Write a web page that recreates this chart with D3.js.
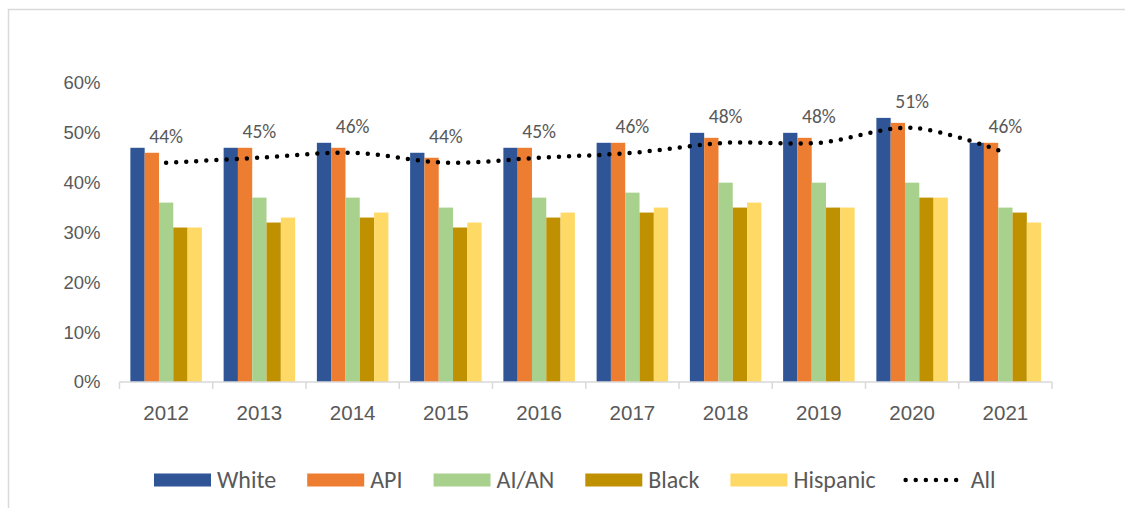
<!DOCTYPE html>
<html>
<head>
<meta charset="utf-8">
<script src="https://cdn.jsdelivr.net/npm/d3@7"></script>
<style>
    body { margin: 0; background: #fff; }
    svg { display: block; font-family: Calibri, Carlito, Lato, sans-serif; }
</style>
</head>
<body>
<svg width="1125" height="508"></svg>
<script>
var years = ["2012", "2013", "2014", "2015", "2016", "2017", "2018", "2019", "2020", "2021"];
var seriesNames = ["White", "API", "AI/AN", "Black", "Hispanic"];
var white    = [47, 47, 48, 46, 47, 48, 50, 50, 53, 48];
var api      = [46, 47, 47, 45, 47, 48, 49, 49, 52, 48];
var aian     = [36, 37, 37, 35, 37, 38, 40, 40, 40, 35];
var black    = [31, 32, 33, 31, 33, 34, 35, 35, 37, 34];
var hispanic = [31, 33, 34, 32, 34, 35, 36, 35, 37, 32];
var all      = [44, 45, 46, 44, 45, 46, 48, 48, 51, 46];
var yTicks = [0, 10, 20, 30, 40, 50, 60];

var colors = ["#2F5597", "#ED7D31", "#A9D18E", "#BF9000", "#FFD966"];
var seriesValues = [white, api, aian, black, hispanic];

var svg = d3.select("svg"),
    margin = {top: 83, left: 119.5, right: 73, bottom: 126},
    width = +svg.attr("width") - margin.left - margin.right,
    height = +svg.attr("height") - margin.top - margin.bottom;

// outer frame (cropped on the right and bottom like the original)
svg.append("rect")
    .attr("x", 8.5).attr("y", 9.5)
    .attr("width", 1200).attr("height", 600)
    .attr("fill", "none")
    .attr("stroke", "#d9d9d9")
    .attr("stroke-width", 1.5);

var g = svg.append("g")
    .attr("transform", "translate(" + margin.left + "," + margin.top + ")");

var x0 = d3.scaleBand().domain(years).range([0, width]);
var x1 = d3.scaleBand().domain(seriesNames)
    .range([0, x0.bandwidth()])
    .paddingInner(0)
    .paddingOuter(0.76);
var y = d3.scaleLinear().domain([0, 60]).range([height, 0]);

// y axis labels only
g.append("g")
    .attr("transform", "translate(-11,0)")
    .call(d3.axisLeft(y).tickValues(yTicks).tickSize(0).tickPadding(8)
        .tickFormat(function(d) { return d + "%"; }))
    .call(function(a) { a.select(".domain").remove(); })
    .selectAll("text")
    .attr("fill", "#595959")
    .style("font-size", "18.5px");

// bars
var rows = [];
years.forEach(function(yr, i) {
    seriesNames.forEach(function(s, j) {
        rows.push({year: yr, series: s, value: seriesValues[j][i], color: colors[j]});
    });
});

g.selectAll(".bar")
    .data(rows)
    .enter().append("rect")
    .attr("class", "bar")
    .attr("x", function(d) { return x0(d.year) + x1(d.series); })
    .attr("y", function(d) { return y(d.value); })
    .attr("width", x1.bandwidth())
    .attr("height", function(d) { return height - y(d.value); })
    .attr("fill", function(d) { return d.color; });

// x axis
var xAxis = g.append("g")
    .attr("transform", "translate(0," + height + ")")
    .call(d3.axisBottom(x0).tickSize(0).tickPadding(23));
xAxis.select(".domain").remove();
xAxis.selectAll("text")
    .attr("fill", "#595959")
    .style("font-size", "20.5px");

g.append("line")
    .attr("x1", 0).attr("x2", width)
    .attr("y1", height).attr("y2", height)
    .attr("stroke", "#d9d9d9")
    .attr("stroke-width", 1.5);

var bounds = years.map(function(d) { return x0(d); }).concat([width]);
g.selectAll(".xtick")
    .data(bounds)
    .enter().append("line")
    .attr("class", "xtick")
    .attr("x1", function(d) { return d; })
    .attr("x2", function(d) { return d; })
    .attr("y1", height)
    .attr("y2", height + 7)
    .attr("stroke", "#d9d9d9")
    .attr("stroke-width", 1.5);

// "All" line - smoothed, round dots
var line = d3.line()
    .x(function(d, i) { return x0(years[i]) + x0.bandwidth() / 2; })
    .y(function(d) { return y(d); })
    .curve(d3.curveCatmullRom.alpha(0.5));

g.append("path")
    .datum(all)
    .attr("d", line)
    .attr("fill", "none")
    .attr("stroke", "#000")
    .attr("stroke-width", 4.5)
    .attr("stroke-linecap", "round")
    .attr("stroke-dasharray", "0 10.1");

g.selectAll(".lbl")
    .data(all)
    .enter().append("text")
    .attr("class", "lbl")
    .attr("x", function(d, i) { return x0(years[i]) + x0.bandwidth() / 2; })
    .attr("y", function(d) { return y(d) - 20; })
    .attr("text-anchor", "middle")
    .attr("fill", "#595959")
    .style("font-size", "19.5px")
    .text(function(d) { return d + "%"; });

// legend
var legend = svg.append("g").attr("transform", "translate(154,0)");
var lx = 0;
var legendItems = seriesNames.concat(["All"]);
legendItems.forEach(function(name, i) {
    if (i < colors.length) {
        legend.append("rect")
            .attr("x", lx).attr("y", 473.5)
            .attr("width", 57).attr("height", 13)
            .attr("fill", colors[i]);
    } else {
        legend.append("line")
            .attr("x1", lx + 2).attr("x2", lx + 55)
            .attr("y1", 480).attr("y2", 480)
            .attr("stroke", "#000")
            .attr("stroke-width", 4.5)
            .attr("stroke-linecap", "round")
            .attr("stroke-dasharray", "0 10.1");
    }
    var t = legend.append("text")
        .attr("x", lx + 57 + (i < colors.length ? 6 : 10))
        .attr("y", 488)
        .attr("fill", "#595959")
        .style("font-size", "24px")
        .text(name);
    lx += 57 + 6 + t.node().getComputedTextLength() + (i == 4 ? 28 : 31);
});
</script>
</body>
</html>
